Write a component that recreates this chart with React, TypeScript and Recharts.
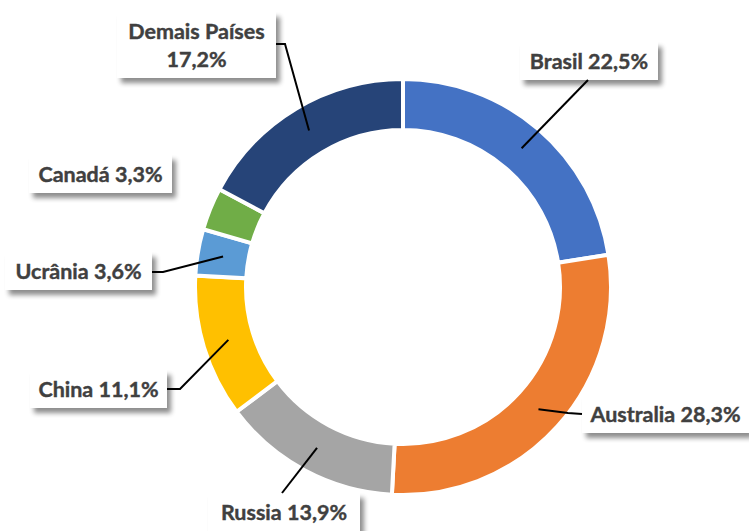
import React from "react";
import { PieChart, Pie, Cell } from "recharts";

const COUNTRIES = ["Brasil", "Australia", "Russia", "China", "Ucrânia", "Canadá", "Demais Países"];
const SHARES = [22.5, 28.3, 13.9, 11.1, 3.6, 3.3, 17.2];
const COLORS = ["#4472C4", "#ED7D31", "#A5A5A5", "#FFC000", "#5B9BD5", "#70AD47", "#264478"];

// label boxes + leader elbows, per slice (layout only)
const LABEL_BOX = [
  { x: 520, y: 42, w: 138, h: 38, elbow: [[588, 80]] },
  { x: 582, y: 395, w: 167, h: 38, elbow: [[582, 414], [568, 413]] },
  { x: 208, y: 493, w: 152, h: 38, elbow: [[282, 493]] },
  { x: 30, y: 370, w: 137, h: 38, elbow: [[167, 389], [180, 389]] },
  { x: 5, y: 252, w: 147, h: 38, elbow: [[152, 272], [163, 272]] },
  { x: 29, y: 155, w: 143, h: 38, elbow: null },
  { x: 117, y: 12, w: 159, h: 66, elbow: [[276, 44], [285, 44]] },
];

const data = COUNTRIES.map((name, i) => ({ name, value: SHARES[i] }));

const RAD = Math.PI / 180;
const fmt = (v: number) => v.toFixed(1).replace(".", ",") + "%";

function renderLabel(props: any) {
  const { cx, cy, midAngle, innerRadius, outerRadius, index, name, value } = props;
  const box = LABEL_BOX[index];
  const r = (innerRadius + outerRadius) / 2;
  const ax = cx + r * Math.cos(-midAngle * RAD);
  const ay = cy + r * Math.sin(-midAngle * RAD);
  const lines = index === 6 ? [name, fmt(value)] : [`${name} ${fmt(value)}`];
  const tx = box.x + box.w / 2;
  return (
    <g key={`lbl-${index}`}>
      <rect x={box.x} y={box.y} width={box.w} height={box.h} fill="#fff" filter="url(#lblShadow)" />
      {lines.map((t, k) => (
        <text
          key={k}
          x={tx}
          y={box.y + box.h / 2 + (k - (lines.length - 1) / 2) * 28}
          textAnchor="middle"
          dominantBaseline="central"
          fill="#404040"
          stroke="#404040"
          strokeWidth={0.4}
          fontFamily="Lato, 'Open Sans', sans-serif"
          fontWeight={700}
          fontSize={21.5}
        >
          {t}
        </text>
      ))}
      {box.elbow && (
        <polyline
          points={[...box.elbow, [ax, ay]].map((p) => p.join(",")).join(" ")}
          fill="none"
          stroke="#000"
          strokeWidth={2}
        />
      )}
    </g>
  );
}

export default function App() {
  return (
    <div style={{ position: "absolute", left: 0, top: 0, width: 749, height: 531, background: "#fff" }}>
      <svg width={0} height={0} style={{ position: "absolute" }}>
        <defs>
          <filter id="lblShadow" x="-20%" y="-30%" width="150%" height="190%">
            <feGaussianBlur in="SourceAlpha" stdDeviation="2.5" />
            <feOffset dx="4" dy="5" result="blur" />
            <feComponentTransfer>
              <feFuncA type="linear" slope="0.45" />
            </feComponentTransfer>
            <feMerge>
              <feMergeNode />
              <feMergeNode in="SourceGraphic" />
            </feMerge>
          </filter>
        </defs>
      </svg>
      <PieChart width={749} height={531} margin={{ top: 0, right: 0, bottom: 0, left: 0 }}>
        <Pie
          data={data}
          dataKey="value"
          nameKey="name"
          cx={403}
          cy={287}
          innerRadius={157}
          outerRadius={208}
          startAngle={90}
          endAngle={-270}
          stroke="#fff"
          strokeWidth={4}
          label={renderLabel}
          labelLine={false}
          isAnimationActive={false}
        >
          {data.map((d, i) => (
            <Cell key={d.name} fill={COLORS[i]} />
          ))}
        </Pie>
      </PieChart>
    </div>
  );
}
